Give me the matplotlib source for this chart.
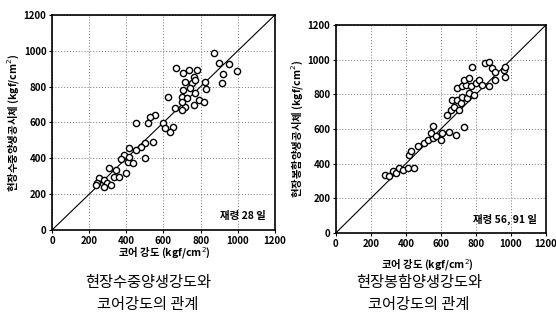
import matplotlib.pyplot as plt

plt.rcParams['font.family'] = ['Noto Sans CJK KR', 'DejaVu Sans']

# 현장수중양생 (재령 28일)
water_core = [870, 898, 953, 998, 920, 916, 667, 707, 735, 780, 762, 716, 753, 771, 825, 829,
              744, 707, 698, 725, 771, 789, 816, 762, 716, 698, 625, 662, 698, 653, 635, 598,
              607, 553, 525, 516, 453, 545, 498, 480, 453, 416, 389, 371, 407, 416, 435, 498,
              307, 344, 335, 362, 398, 253, 280, 298, 244, 316, 280, 235]
water_field = [985, 934, 926, 889, 870, 822, 902, 874, 893, 893, 856, 828, 819, 837, 828, 785,
               790, 781, 744, 735, 763, 726, 716, 698, 688, 716, 744, 679, 670, 577, 549, 595,
               567, 642, 633, 599, 599, 493, 484, 465, 447, 456, 419, 394, 381, 409, 372, 400,
               344, 335, 298, 298, 316, 288, 279, 264, 260, 251, 242, 251]

# 현장봉함양생 (재령 56, 91일)
seal_core = [282, 306, 325, 344, 363, 382, 410, 448, 420, 429, 467, 505, 524, 552, 542, 571,
             599, 609, 646, 684, 552, 732, 637, 656, 675, 703, 665, 694, 713, 722, 750, 760,
             788, 694, 722, 741, 769, 798, 817, 836, 873, 732, 760, 779, 854, 873, 892, 911,
             911, 958, 968, 968]
seal_field = [336, 326, 355, 345, 374, 365, 374, 374, 451, 470, 499, 518, 537, 547, 576, 557,
              537, 576, 585, 566, 618, 614, 681, 710, 729, 710, 768, 768, 749, 787, 777, 806,
              797, 835, 845, 854, 845, 864, 883, 854, 845, 883, 893, 960, 979, 988, 950, 931,
              883, 941, 960, 902]

ticks = [0, 200, 400, 600, 800, 1000, 1200]

fig = plt.figure(figsize=(5.56, 3.24), dpi=100)


def draw(ax, xs, ys, ylabel, note):
    ax.set_xlim(0, 1200)
    ax.set_ylim(0, 1200)
    ax.set_xticks(ticks)
    ax.set_yticks(ticks)
    ax.grid(True, linestyle=(0, (1, 2)), color='#777777', linewidth=0.7)
    ax.plot([0, 1200], [0, 1200], color='black', linewidth=0.8)
    ax.scatter(xs, ys, s=20, facecolor='white', edgecolor='black', linewidth=1.0, zorder=3)
    ax.tick_params(length=2, labelsize=7, pad=2)
    for lab in ax.get_xticklabels() + ax.get_yticklabels():
        lab.set_fontweight('bold')
    for sp in ax.spines.values():
        sp.set_linewidth(1.2)
    ax.set_ylabel(ylabel, fontsize=7.5, fontweight='bold', labelpad=2)
    ax.text(1150, 80, note, ha='right', va='center', fontsize=7.5, fontweight='bold')


ax1 = fig.add_axes([0.0935, 0.290, 0.401, 0.664])
draw(ax1, water_core, water_field, '현장수중양생공시체 (kgf/cm$^2$)', '재령 28 일')

ax2 = fig.add_axes([0.604, 0.281, 0.378, 0.642])
draw(ax2, seal_core, seal_field, '현장봉함양생공시체 (kgf/cm$^2$)', '재령 56, 91 일')

fig.text(164 / 556, 1 - 253 / 324, '코어 강도 (kgf/cm$^2$)', ha='center', va='center',
         fontsize=7.5, fontweight='bold')
fig.text(427 / 556, 1 - 265 / 324, '코어 강도 (kgf/cm$^2$)', ha='center', va='center',
         fontsize=7.5, fontweight='bold')

fig.text(148 / 556, 1 - 283 / 324, '현장수중양생강도와', ha='center', va='center', fontsize=11)
fig.text(148 / 556, 1 - 305 / 324, '코어강도의 관계', ha='center', va='center', fontsize=11)
fig.text(419 / 556, 1 - 283 / 324, '현장봉함양생강도와', ha='center', va='center', fontsize=11)
fig.text(419 / 556, 1 - 305 / 324, '코어강도의 관계', ha='center', va='center', fontsize=11)

fig.savefig('out.png', dpi=100)
